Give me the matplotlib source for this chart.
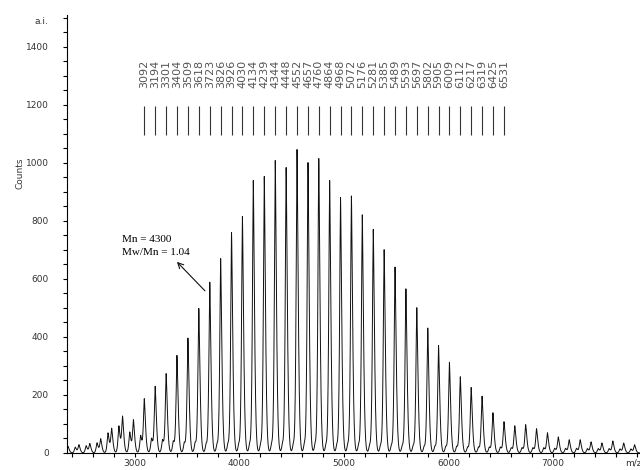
import numpy as np
import matplotlib
matplotlib.use("Agg")
import matplotlib.pyplot as plt
from matplotlib.ticker import MultipleLocator

# 主峰位置 (m/z) 与强度 (counts)
peak_mz = [2363, 2467, 2571, 2675, 2780, 2884, 2988,
           3092, 3196, 3301, 3404, 3509, 3613, 3718, 3822, 3926, 4030,
           4134, 4239, 4344, 4448, 4552, 4657, 4760, 4864, 4968, 5072,
           5176, 5281, 5385, 5489, 5593, 5697, 5802, 5905, 6009, 6113,
           6217, 6321, 6425, 6531,
           6634, 6738, 6842, 6946, 7050, 7154, 7259, 7363, 7467, 7571,
           7675, 7779]
peak_counts = [22, 28, 32, 48, 83, 124, 112,
               185, 228, 272, 335, 395, 497, 588, 669, 759, 814,
               938, 952, 1007, 983, 1045, 1000, 1014, 938, 880, 885,
               820, 770, 700, 640, 565, 500, 430, 370, 312, 262,
               225, 195, 138, 107,
               93, 97, 83, 69, 55, 45, 45, 38, 34, 41,
               34, 28]
# 小的副峰 (主峰左侧约 35 Da)
side_counts = [15, 20, 25, 35, 69, 93, 72,
               60, 50, 45, 40, 35, 35, 30, 30, 30, 30,
               30, 30, 30, 30, 30, 30, 30, 28, 28, 28,
               28, 25, 25, 25, 25, 25, 22, 22, 22, 22,
               20, 20, 20, 20,
               18, 18, 18, 18, 16, 16, 16, 15, 15, 15,
               14, 14]
side_shift = -35

# 标注的峰
label_mz = [3092, 3194, 3301, 3404, 3509, 3618, 3723, 3826, 3926, 4030,
            4134, 4239, 4344, 4448, 4552, 4657, 4760, 4864, 4968, 5072,
            5176, 5281, 5385, 5489, 5593, 5697, 5802, 5905, 6009, 6112,
            6217, 6319, 6425, 6531]

x_ticks = [3000, 4000, 5000, 6000, 7000]
y_ticks = [0, 200, 400, 600, 800, 1000, 1200, 1400]


def spectrum(mz, centers, heights, wl=12.0, wr=16.0):
    """把峰列表变成连续谱线 (尖顶、宽底)"""
    c = np.asarray(centers, dtype=float)[:, None]
    h = np.asarray(heights, dtype=float)[:, None]
    d = mz[None, :] - c
    w = np.where(d < 0, wl, wr)
    return (h * np.exp(-(np.abs(d) / w) ** 1.5)).sum(axis=0)


fig = plt.figure(figsize=(6.4, 4.7), dpi=100)
ax = fig.add_axes([67 / 640, 17 / 470, 1 - 67 / 640, 438 / 470])

mz = np.arange(2353, 7832, 1.0)
y = spectrum(mz, peak_mz, peak_counts)
y += spectrum(mz, np.array(peak_mz) + side_shift, side_counts)
ax.plot(mz, y, color="#111111", lw=0.7)

# 峰标记竖线和文字
ax.vlines(label_mz, 1095, 1195, color="#333333", lw=0.8)
for m in label_mz:
    ax.text(m, 1260, str(m), rotation=90, ha="center", va="bottom",
            fontsize=8, color="#555555", family="DejaVu Sans")

ax.annotate("", xy=(3404, 659), xytext=(3672, 559),
            arrowprops=dict(arrowstyle="->", lw=0.8, color="#111111",
                            shrinkA=0, shrinkB=0))
ax.text(2876, 736, "Mn = 4300", fontsize=8, family="Liberation Serif",
        ha="left", va="center")
ax.text(2876, 691, "Mw/Mn = 1.04", fontsize=8, family="Liberation Serif",
        ha="left", va="center")

ax.set_xlim(2353, 7831)
ax.set_ylim(0, 1510)
ax.set_xticks(x_ticks)
ax.set_yticks(y_ticks)
ax.xaxis.set_minor_locator(MultipleLocator(200))
ax.yaxis.set_minor_locator(MultipleLocator(50))
ax.tick_params(axis="both", which="both", direction="out", length=3,
               width=0.8, labelsize=6.5, labelcolor="#333333")
ax.tick_params(axis="y", pad=10)
ax.tick_params(axis="x", pad=1.5)
for s in ["top", "right"]:
    ax.spines[s].set_visible(False)
for s in ["left", "bottom"]:
    ax.spines[s].set_linewidth(0.8)

fig.text(20 / 640, 1 - 173 / 470, "Counts", rotation=90, ha="center",
         va="center", fontsize=6.5, color="#333333")
fig.text(41 / 640, 1 - 22 / 470, "a.i.", ha="center", va="center",
         fontsize=6.5, color="#333333")
fig.text(625 / 640, 1 - 463 / 470, "m/z", ha="left", va="center",
         fontsize=6.5, color="#333333")

fig.savefig("out.png", dpi=100)
